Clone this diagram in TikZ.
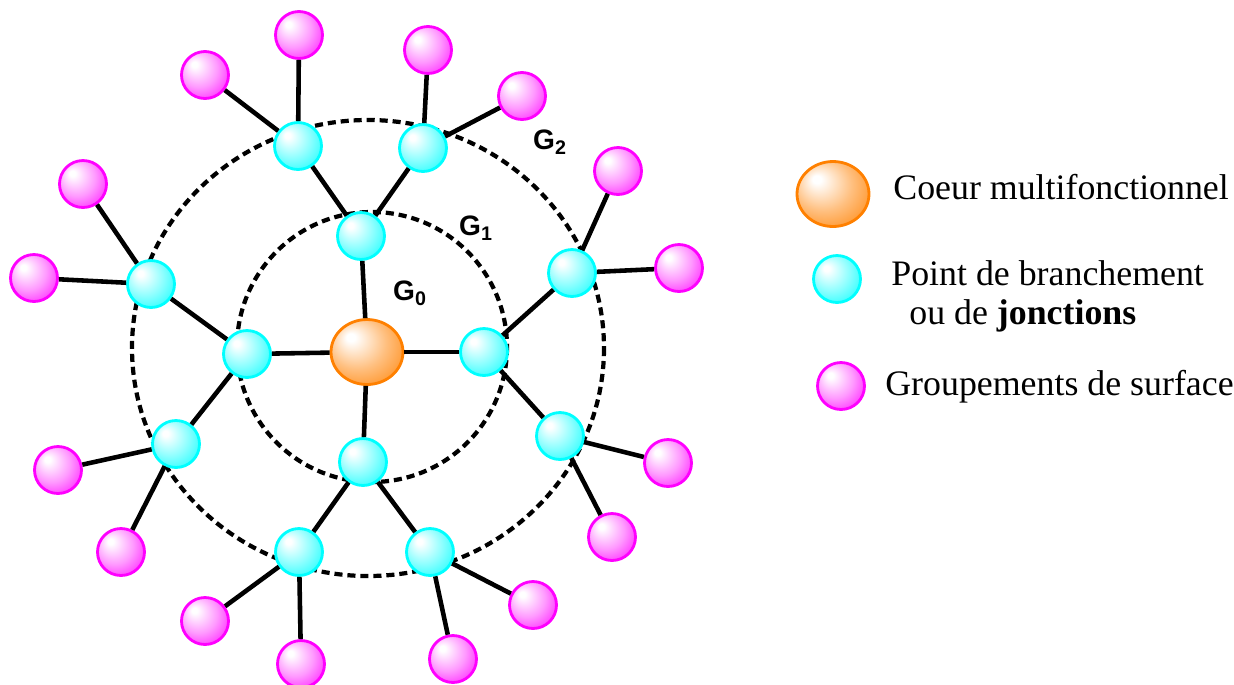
\documentclass[tikz,border=0pt]{standalone}
\usepackage{fontspec}
\setmainfont{Liberation Serif}
\newfontfamily\gfont{Liberation Sans}
\usetikzlibrary{positioning,shapes.geometric}

\definecolor{ballorange}{RGB}{255,128,0}
\definecolor{ballcyan}{RGB}{0,255,255}
\definecolor{ballmagenta}{RGB}{255,0,255}

\pgfdeclareradialshading{orangeball}{\pgfpoint{-12bp}{12bp}}{color(0bp)=(white); color(3bp)=(white); color(20bp)=(ballorange!50); color(36bp)=(ballorange!90); color(48bp)=(ballorange)}
\pgfdeclareradialshading{cyanball}{\pgfpoint{-12bp}{12bp}}{color(0bp)=(white); color(3bp)=(white); color(20bp)=(ballcyan!45); color(36bp)=(ballcyan!90); color(48bp)=(ballcyan)}
\pgfdeclareradialshading{magentaball}{\pgfpoint{-12bp}{12bp}}{color(0bp)=(white); color(3bp)=(white); color(20bp)=(ballmagenta!40); color(36bp)=(ballmagenta!88); color(48bp)=(ballmagenta)}

\begin{document}
\begin{tikzpicture}[
		x=0.02cm,y=-0.02cm,
		coeur/.style={ellipse,minimum width=1.44cm,minimum height=1.3cm,inner sep=0pt,
			shade,shading=orangeball,draw=ballorange,line width=1.6pt},
		branche/.style={circle,minimum size=0.94cm,inner sep=0pt,
			shade,shading=cyanball,draw=ballcyan,line width=1.6pt},
		groupe/.style={circle,minimum size=0.94cm,inner sep=0pt,
			shade,shading=magentaball,draw=ballmagenta,line width=1.6pt},
		link/.style={line width=2.6pt},
		ring/.style={line width=2.4pt,dash pattern=on 4.6pt off 2.8pt},
		gen/.style={font=\gfont\bfseries\fontsize{16}{18}\selectfont},
		legend/.style={anchor=base west,inner sep=0pt,font=\fontsize{20.4}{22.4}\selectfont}
		]
		\useasboundingbox (0,0) rectangle (1234,684);
		
		% generations
		\coordinate (o1) at (372,347);
		\coordinate (o2) at (368,348);
		\draw[ring] (o1) circle[radius=135];
		\draw[ring] (o2) circle[x radius=236,y radius=228];
		
		\node[coeur] (c) at (367,352) {};
		
		\node[branche] (g1t) at (361,236) {};
		\node[branche] (g1r) at (484,352) {};
		\node[branche] (g1b) at (363,462) {};
		\node[branche] (g1l) at (247,354) {};
		
		\node[branche] (g2a) at (298,146) {};
		\node[branche] (g2b) at (423,148) {};
		\node[branche] (g2c) at (572,273) {};
		\node[branche] (g2d) at (560,436) {};
		\node[branche] (g2e) at (430,552) {};
		\node[branche] (g2f) at (299,552) {};
		\node[branche] (g2g) at (176,444) {};
		\node[branche] (g2h) at (151,284) {};
		
		\node[groupe] (s1) at (205,75) {};
		\node[groupe] (s2) at (299,35) {};
		\node[groupe] (s3) at (428,50) {};
		\node[groupe] (s4) at (522,96) {};
		\node[groupe] (s5) at (618,171) {};
		\node[groupe] (s6) at (679,268) {};
		\node[groupe] (s7) at (668,463) {};
		\node[groupe] (s8) at (612,537) {};
		\node[groupe] (s9) at (533,605) {};
		\node[groupe] (s10) at (453,659) {};
		\node[groupe] (s11) at (301,664) {};
		\node[groupe] (s12) at (205,621) {};
		\node[groupe] (s13) at (121,552) {};
		\node[groupe] (s14) at (58,470) {};
		\node[groupe] (s15) at (34,278) {};
		\node[groupe] (s16) at (83,184) {};
		
		\draw[link] (c)--(g1t);
		\draw[link] (c)--(g1r);
		\draw[link] (c)--(g1b);
		\draw[link] (c)--(g1l);
		
		\draw[link] (g1t)--(g2a);
		\draw[link] (g1t)--(g2b);
		\draw[link] (g1r)--(g2c);
		\draw[link] (g1r)--(g2d);
		\draw[link] (g1b)--(g2e);
		\draw[link] (g1b)--(g2f);
		\draw[link] (g1l)--(g2g);
		\draw[link] (g1l)--(g2h);
		
		\draw[link] (g2a)--(s1);
		\draw[link] (g2a)--(s2);
		\draw[link] (g2b)--(s3);
		\draw[link] (g2b)--(s4);
		\draw[link] (g2c)--(s5);
		\draw[link] (g2c)--(s6);
		\draw[link] (g2d)--(s7);
		\draw[link] (g2d)--(s8);
		\draw[link] (g2e)--(s9);
		\draw[link] (g2e)--(s10);
		\draw[link] (g2f)--(s11);
		\draw[link] (g2f)--(s12);
		\draw[link] (g2g)--(s13);
		\draw[link] (g2g)--(s14);
		\draw[link] (g2h)--(s15);
		\draw[link] (g2h)--(s16);
		
		\node[gen] (lg0) at (410,293) {G\textsubscript{0}};
		\node[gen] (lg1) at (476,228) {G\textsubscript{1}};
		\node[gen] (lg2) at (550,142) {G\textsubscript{2}};
		
		% legend
		\node[coeur] (kc) at (833,194) {};
		\node[branche] (kb) at (837,279) {};
		\node[groupe] (kg) at (841,386) {};
		
		\node[legend] (tc) at (893,199) {Coeur multifonctionnel};
		\node[legend] (tb) at (891,285) {Point de branchement};
		\node[legend] (tj) at (909,324) {ou de \textbf{jonctions}};
		\node[legend] (tg) at (885,395) {Groupements de surface};
		
	\end{tikzpicture}
\end{document}
